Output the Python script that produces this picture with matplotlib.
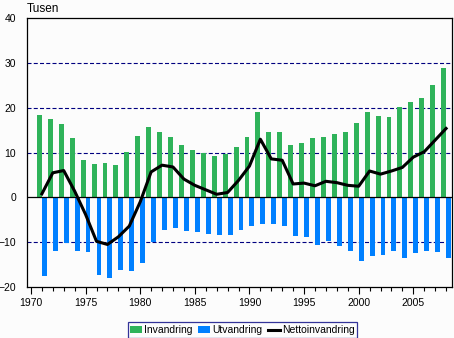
import numpy as np
import matplotlib
matplotlib.use('Agg')
import matplotlib.pyplot as plt
from matplotlib.ticker import MultipleLocator

# Data (thousands)
years = list(range(1971, 2009))
invandring = [18.3, 17.4, 16.5, 13.3, 8.3, 7.5, 7.6, 7.3, 10.1, 13.7,
              15.7, 14.5, 13.6, 11.6, 10.5, 9.9, 9.2, 9.6, 11.2, 13.4,
              19.0, 14.5, 14.7, 11.6, 12.1, 13.2, 13.4, 14.1, 14.7, 16.7,
              19.0, 18.1, 17.9, 20.3, 21.2, 22.3, 25.2, 29.0]
utvandring = [-17.5, -11.9, -10.1, -11.9, -12.1, -17.3, -18.1, -16.1, -16.5, -14.7,
              -9.9, -7.3, -6.8, -7.5, -7.7, -8.1, -8.4, -8.4, -7.3, -6.4,
              -5.9, -5.9, -6.4, -8.6, -8.8, -10.6, -9.7, -10.8, -11.9, -14.1,
              -13.0, -12.8, -11.9, -13.5, -12.4, -11.9, -12.1, -13.5]
netto = [0.8, 5.5, 6.0, 1.4, -3.8, -9.8, -10.5, -8.8, -6.4, -1.0,
         5.7, 7.2, 6.8, 4.1, 2.7, 1.7, 0.7, 1.1, 3.8, 7.0,
         13.0, 8.6, 8.3, 3.0, 3.2, 2.6, 3.6, 3.3, 2.7, 2.5,
         5.9, 5.2, 5.9, 6.7, 9.0, 10.2, 12.8, 15.4]

green = '#2fb35a'
blue = '#0080ff'
navy = '#000080'

plt.rcParams['font.family'] = ['Liberation Sans', 'DejaVu Sans']
plt.rcParams['lines.scale_dashes'] = False

fig = plt.figure(figsize=(4.54, 3.38), dpi=100, facecolor='#fcfcfc')
ax = fig.add_axes([0.0588, 0.1509, 0.9365, 0.795])
ax.set_facecolor('#fcfcfc')

x = np.array(years)
w = 0.45
b1 = ax.bar(x - w / 2, invandring, width=w, color=green, label='Invandring', zorder=2)
b2 = ax.bar(x + w / 2, utvandring, width=w, color=blue, label='Utvandring', zorder=2)

for v in [-10, 10, 20, 30]:
    ax.axhline(v, color=navy, lw=0.8, linestyle=(0, (2.9, 1.6)), zorder=1)
ax.axhline(0, color='black', lw=0.9, zorder=3)

l1, = ax.plot(x, netto, color='black', lw=2.2, label='Nettoinvandring', zorder=4,
              solid_joinstyle='round')

ax.set_xlim(1969.61, 2008.53)
ax.set_ylim(-20, 40)
ax.xaxis.set_major_locator(MultipleLocator(5))
ax.xaxis.set_minor_locator(MultipleLocator(1))
ax.yaxis.set_major_locator(MultipleLocator(10))
ax.tick_params(axis='x', which='major', length=5, width=0.8, labelsize=7.5, pad=3)
ax.tick_params(axis='x', which='minor', length=3, width=0.8)
ax.tick_params(axis='y', length=0, labelsize=7.5, pad=7.5)
for s in ax.spines.values():
    s.set_linewidth(0.9)

fig.text(0.0588, 0.973, 'Tusen', fontsize=8.5, ha='left', va='center')

leg = fig.legend([b1, b2, l1], ['Invandring', 'Utvandring', 'Nettoinvandring'],
                 loc='lower center', bbox_to_anchor=(0.534, -0.005), ncol=3,
                 fontsize=7.5, frameon=True, fancybox=False,
                 handlelength=1.1, handleheight=0.6, handletextpad=0.2,
                 columnspacing=0.6, borderpad=0.25, borderaxespad=0.2)
leg.get_frame().set_edgecolor(navy)
leg.get_frame().set_linewidth(0.9)
leg.get_frame().set_facecolor('#fcfcfc')

fig.savefig('out.png', dpi=100, facecolor=fig.get_facecolor())
